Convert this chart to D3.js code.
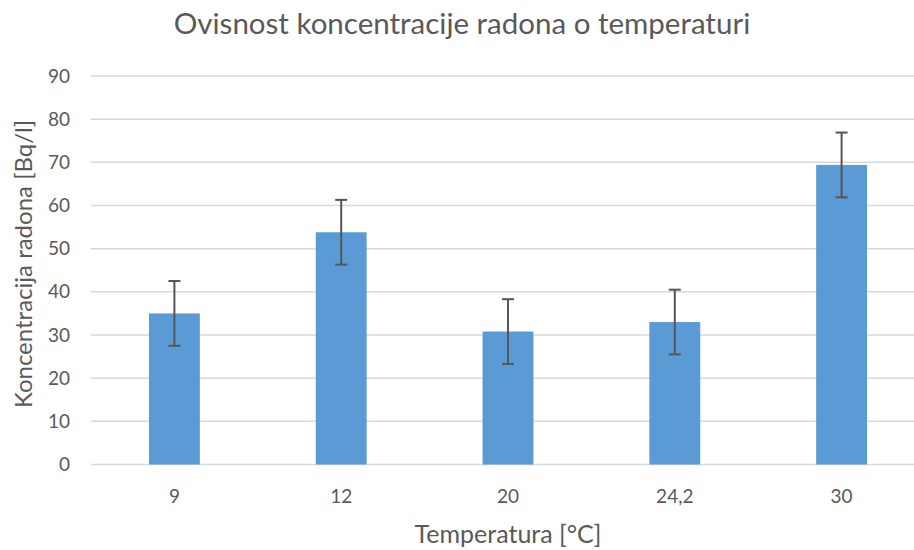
<!DOCTYPE html>
<html>
<head>
<meta charset="utf-8">
<script src="https://cdn.jsdelivr.net/npm/d3@7"></script>
<style>
  body { margin: 0; background: #fff; }
  text { font-family: Lato, "Open Sans", sans-serif; fill: #595959; }
</style>
</head>
<body>
<div id="chart"></div>
<script>
// radon concentration vs temperature, bars with +/- error bars

var categories = ["9", "12", "20", "24,2", "30"];
var values = [35.0, 53.8, 30.8, 33.0, 69.4];
var errors = [7.5, 7.5, 7.5, 7.5, 7.5];
var yTicks = [0, 10, 20, 30, 40, 50, 60, 70, 80, 90];

var width = 914, height = 550;
var margin = {top: 76, right: -11, bottom: 85.5, left: 91};

var svg = d3.select("#chart").append("svg")
  .attr("width", width).attr("height", height);

var x = d3.scaleBand()
  .domain(categories)
  .range([margin.left, width - margin.right])
  .paddingInner(0.695).paddingOuter(0.3475);

var y = d3.scaleLinear()
  .domain([0, 90])
  .range([height - margin.bottom, margin.top]);

// gridlines
svg.append("g").selectAll("line")
  .data(yTicks)
  .enter().append("line")
  .attr("x1", margin.left).attr("x2", width - margin.right)
  .attr("y1", function(d){ return y(d); })
  .attr("y2", function(d){ return y(d); })
  .attr("stroke", "#d9d9d9").attr("stroke-width", 1.5);

// y labels
svg.append("g").selectAll("text")
  .data(yTicks)
  .enter().append("text")
  .attr("x", 70).attr("y", function(d){ return y(d); })
  .attr("dy", "0.35em")
  .attr("text-anchor", "end")
  .style("font-size", "19px")
  .text(function(d){ return d; });

// bars
svg.append("g").selectAll("rect")
  .data(values)
  .enter().append("rect")
  .attr("x", function(d, i){ return x(categories[i]); })
  .attr("width", x.bandwidth())
  .attr("y", function(d){ return y(d); })
  .attr("height", function(d){ return y(0) - y(d); })
  .attr("fill", "#5b9bd5");

// error bars
var eb = svg.append("g").attr("stroke", "#555").attr("stroke-width", 2);
values.forEach(function(v, i){
  var cx = x(categories[i]) + x.bandwidth() / 2;
  var hi = y(v + errors[i]), lo = y(v - errors[i]);
  eb.append("line").attr("x1", cx).attr("x2", cx).attr("y1", hi).attr("y2", lo);
  eb.append("line").attr("x1", cx - 6).attr("x2", cx + 6).attr("y1", hi).attr("y2", hi);
  eb.append("line").attr("x1", cx - 6).attr("x2", cx + 6).attr("y1", lo).attr("y2", lo);
});

// x labels
svg.append("g").selectAll("text")
  .data(categories)
  .enter().append("text")
  .attr("x", function(d){ return x(d) + x.bandwidth() / 2; })
  .attr("y", 503)
  .attr("text-anchor", "middle")
  .style("font-size", "19px")
  .text(function(d){ return d; });

// titles
svg.append("text")
  .attr("x", 462).attr("y", 34)
  .attr("text-anchor", "middle")
  .style("font-size", "29.5px")
  .text("Ovisnost koncentracije radona o temperaturi");

svg.append("text")
  .attr("x", 508).attr("y", 543)
  .attr("text-anchor", "middle")
  .style("font-size", "25px")
  .text("Temperatura [°C]");

svg.append("text")
  .attr("transform", "translate(32,264) rotate(-90)")
  .attr("text-anchor", "middle")
  .style("font-size", "24px")
  .text("Koncentracija radona [Bq/l]");
</script>
</body>
</html>
